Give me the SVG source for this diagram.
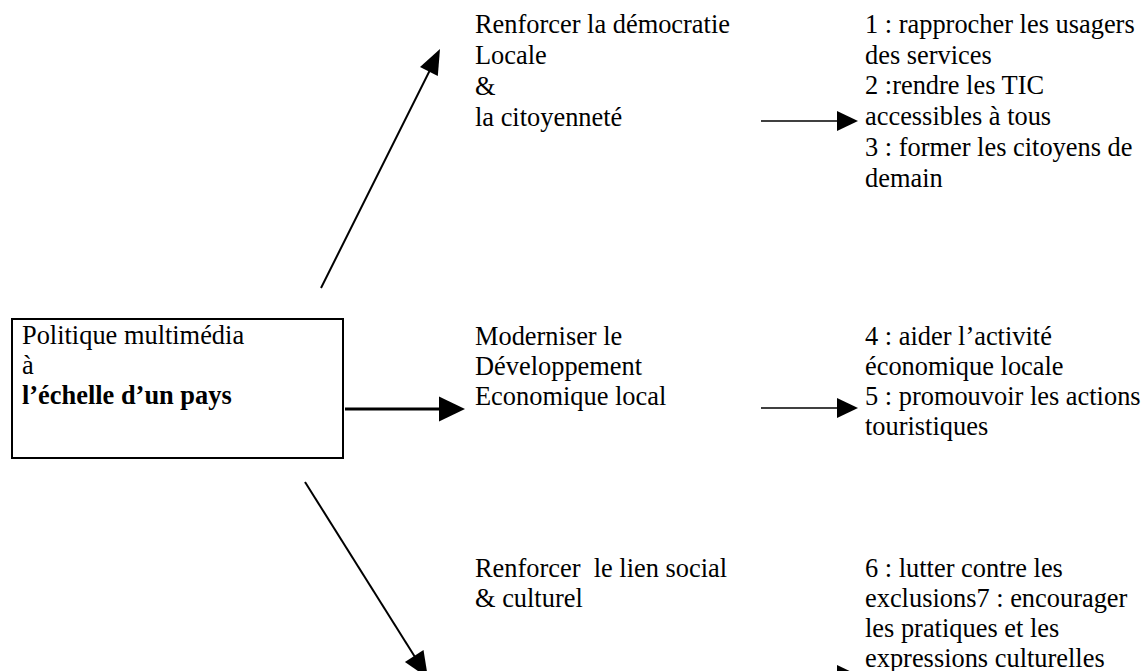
<svg xmlns="http://www.w3.org/2000/svg" width="1146" height="671" viewBox="0 0 1146 671">
<style>
text{font-family:"Liberation Serif","Times New Roman",serif;font-size:26.4px;fill:#000}
.b{font-weight:bold}
.pre{white-space:pre}
.box{fill:#fff;stroke:#000;stroke-width:2}
.ln{stroke:#000;fill:none}
.hd{fill:#000;stroke:none}
</style>
<rect width="1146" height="671" fill="#fff"/>
<g id="root">
<rect class="box" x="12" y="319" width="331" height="139"/>
<text x="22" y="344">Politique multimédia</text>
<text x="22" y="374">à</text>
<text class="b" x="22" y="404">l’échelle d’un pays</text>
</g>
<g id="n-democratie">
<text x="475" y="33">Renforcer la démocratie</text>
<text x="475" y="64">Locale</text>
<text x="475" y="95">&amp;</text>
<text x="475" y="126">la citoyenneté</text>
</g>
<g id="n-economie">
<text x="475" y="345">Moderniser le</text>
<text x="475" y="375">Développement</text>
<text x="475" y="405">Economique local</text>
</g>
<g id="n-social">
<text class="pre" x="475" y="577" xml:space="preserve">Renforcer  le lien social</text>
<text x="475" y="607">&amp; culturel</text>
</g>
<g id="o-democratie">
<text x="865" y="33">1 : rapprocher les usagers</text>
<text x="865" y="64">des services</text>
<text x="865" y="94">2 :rendre les TIC</text>
<text x="865" y="125">accessibles à tous</text>
<text x="865" y="156">3 : former les citoyens de</text>
<text x="865" y="187">demain</text>
</g>
<g id="o-economie">
<text x="865" y="345">4 : aider l’activité</text>
<text x="865" y="375">économique locale</text>
<text x="865" y="405">5 : promouvoir les actions</text>
<text x="865" y="435">touristiques</text>
</g>
<g id="o-social">
<text x="865" y="577">6 : lutter contre les</text>
<text x="865" y="607">exclusions7 : encourager</text>
<text x="865" y="637">les pratiques et les</text>
<text x="865" y="667">expressions culturelles</text>
</g>
<g id="connectors">
<line class="ln" x1="321" y1="288" x2="430" y2="70" stroke-width="2"/>
<polygon class="hd" points="440,49 437.8,75.9 420,66.9"/>
<line class="ln" x1="345" y1="409" x2="441" y2="409" stroke-width="3"/>
<polygon class="hd" points="465,409 439,396.5 439,421.5"/>
<line class="ln" x1="305" y1="482" x2="415" y2="657" stroke-width="2"/>
<polygon class="hd" points="428,678 423.5,650.1 404.9,661.9"/>
<line class="ln" x1="761" y1="121" x2="839" y2="121" stroke-width="1.5"/>
<polygon class="hd" points="858,121 837,111 837,131"/>
<line class="ln" x1="761" y1="408" x2="839" y2="408" stroke-width="1.5"/>
<polygon class="hd" points="858,408 837,398 837,418"/>
<line class="ln" x1="761" y1="675" x2="839" y2="675" stroke-width="1.5"/>
<polygon class="hd" points="858,675 837,665 837,685"/>
</g>
</svg>
